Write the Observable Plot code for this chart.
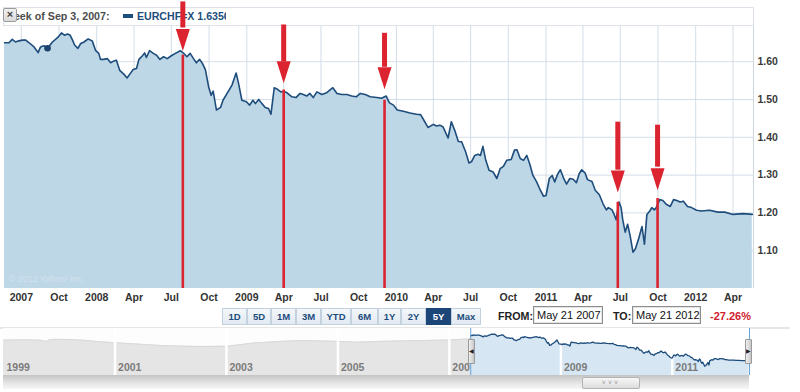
<!DOCTYPE html>
<html><head><meta charset="utf-8">
<script src="https://cdn.jsdelivr.net/npm/d3@7"></script>
<script src="https://cdn.jsdelivr.net/npm/@observablehq/plot@0.6"></script>
<style>
body{margin:0;background:#fff;}
#wrap{position:relative;width:800px;height:392px;overflow:hidden;font-family:"Liberation Sans",Arial,sans-serif;}
.abs{position:absolute;}
#hdr{left:3px;top:7px;width:749px;height:17px;border:1px solid #dce2e8;background:#fff;}
#hdrText{left:4px;top:9px;font-weight:bold;font-size:10.7px;color:#4d4d4d;white-space:nowrap;line-height:14px;}
#swatch{left:123px;top:14px;width:10px;height:4px;background:#1e4d7c;}
#legend{left:137px;top:9px;width:89px;overflow:hidden;white-space:nowrap;font-weight:bold;font-size:10.6px;color:#1e4d7c;line-height:14px;}
#close{left:3px;top:8px;width:12px;height:12px;border:1px solid #9c9c9c;border-radius:2px;background:linear-gradient(#f2f2f2,#d9d9d9);font-size:11px;line-height:11px;text-align:center;color:#444;font-weight:bold;}
#main{left:0;top:0;}
.btn{position:absolute;top:308px;height:15px;border:1px solid #c3d1de;background:linear-gradient(#f4f7fa,#e2eaf2);color:#1e4d7c;font-weight:bold;font-size:9.5px;line-height:15px;text-align:center;box-sizing:content-box;}
.btn.sel{background:#1b4677;color:#fff;border-color:#1b4677;}
.lbl{position:absolute;top:309px;font-weight:bold;font-size:10.7px;color:#222;line-height:14px;}
.box{position:absolute;top:306px;height:16px;border:1px solid #8d8d8d;box-shadow:inset 0 0 0 1px #e4e4e4;font-size:11px;line-height:16px;color:#111;padding-left:3px;box-sizing:content-box;white-space:nowrap;}
#pct{left:710px;top:309px;font-weight:bold;font-size:11px;color:#d0202e;line-height:14px;}
#sep{left:0;top:327px;width:790px;height:2px;background:#e6e6e6;}
#nav{left:0;top:328px;}
#scroll{left:3px;top:375px;width:746px;height:14px;background:linear-gradient(#c4c4c4,#e9e9e9 65%,#f6f6f6);}
#thumb{left:582px;top:377px;width:56px;height:10px;border:1px solid #b3b3b3;border-radius:2px;background:linear-gradient(#f7f7f7,#dedede);font-size:7px;line-height:10px;text-align:center;color:#9a9a9a;letter-spacing:2px;}
.handle{position:absolute;top:339px;width:5px;height:23px;border:1px solid #9a9a9a;border-radius:1px;background:linear-gradient(90deg,#f0f0f0,#c8c8c8);font-size:6px;line-height:23px;text-align:center;color:#222;overflow:hidden;}
</style></head><body>
<div id="wrap">
  <div id="hdr" class="abs"></div>
  <div id="hdrText" class="abs">Week of Sep 3, 2007:</div>
  <div id="swatch" class="abs"></div>
  <div id="legend" class="abs">EURCHF=X 1.6356</div>
  <div id="close" class="abs">×</div>
  <div id="main" class="abs"></div>
  <div id="btns"></div>
  <div class="lbl" style="left:498px">FROM:</div>
  <div class="box" style="left:533px;width:65px">May 21 2007</div>
  <div class="lbl" style="left:613px">TO:</div>
  <div class="box" style="left:632px;width:64px">May 21 2012</div>
  <div id="pct" class="abs">-27.26%</div>
  <div id="sep" class="abs"></div>
  <div id="nav" class="abs"></div>
  <div id="scroll" class="abs"></div>
  <div id="thumb" class="abs">˅˅˅</div>
  <div class="handle" style="left:468px">◀</div>
  <div class="handle" style="left:745px">▶</div>
</div>
<script>
// ---- main series (weekly EURCHF=X closes) ----
const weekDates = ["2007-05-21","2007-06-01","2007-06-09","2007-06-17","2007-06-25","2007-07-04","2007-07-12","2007-07-20","2007-08-01","2007-08-11","2007-08-17","2007-08-25","2007-09-03","2007-09-15","2007-09-28","2007-10-07","2007-10-14","2007-10-22","2007-10-28","2007-11-03","2007-11-08","2007-11-16","2007-11-23","2007-12-01","2007-12-11","2007-12-21","2007-12-29",
"2008-01-06","2008-01-10","2008-01-18","2008-01-27","2008-02-04","2008-02-12","2008-02-18","2008-02-26","2008-03-07","2008-03-15","2008-03-23","2008-03-30","2008-04-07","2008-04-13","2008-04-21","2008-04-27","2008-05-01","2008-05-09","2008-05-18","2008-05-26","2008-06-03","2008-06-12","2008-06-21","2008-06-30","2008-07-11","2008-07-23","2008-07-31","2008-08-08","2008-08-16","2008-08-24","2008-08-31","2008-09-08","2008-09-15","2008-09-22","2008-09-30","2008-10-06","2008-10-11","2008-10-19","2008-10-29","2008-11-04","2008-11-14","2008-11-26","2008-12-06","2008-12-12","2008-12-20","2008-12-31",
"2009-01-08","2009-01-16","2009-01-22","2009-01-30","2009-02-07","2009-02-15","2009-02-23","2009-03-01","2009-03-09","2009-03-17","2009-03-25","2009-04-01","2009-04-10","2009-04-21","2009-05-01","2009-05-11","2009-05-19","2009-05-27","2009-06-04","2009-06-12","2009-06-21","2009-07-03","2009-07-15","2009-07-30","2009-08-09","2009-08-21","2009-09-02","2009-09-14","2009-09-25","2009-10-05","2009-10-17","2009-10-29","2009-11-14","2009-11-26","2009-12-07","2009-12-15","2009-12-25",
"2010-01-03","2010-01-18","2010-02-03","2010-02-19","2010-03-01","2010-03-09","2010-03-19","2010-04-01","2010-04-09","2010-04-17","2010-04-25","2010-05-07","2010-05-15","2010-05-23","2010-06-01","2010-06-09","2010-06-19","2010-06-27","2010-07-03","2010-07-11","2010-07-19","2010-07-25","2010-07-31","2010-08-07","2010-08-15","2010-08-25","2010-09-03","2010-09-11","2010-09-19","2010-09-27","2010-10-08","2010-10-16","2010-10-22","2010-10-30","2010-11-07","2010-11-15","2010-11-22","2010-11-30","2010-12-09","2010-12-18","2010-12-26",
"2011-01-01","2011-01-09","2011-01-16","2011-01-22","2011-01-30","2011-02-05","2011-02-13","2011-02-20","2011-02-28","2011-03-08","2011-03-16","2011-03-23","2011-03-29","2011-04-06","2011-04-12","2011-04-23","2011-05-01","2011-05-11","2011-05-20","2011-05-28","2011-06-02","2011-06-11","2011-06-16","2011-06-21","2011-06-28","2011-07-03","2011-07-07","2011-07-13","2011-07-19","2011-07-25","2011-08-01","2011-08-07","2011-08-15","2011-08-23","2011-08-29","2011-09-04","2011-09-11","2011-09-16","2011-09-22","2011-09-27","2011-10-05","2011-10-13","2011-10-21","2011-10-31","2011-11-08","2011-11-16","2011-11-24","2011-12-02","2011-12-12","2011-12-22",
"2012-01-03","2012-01-15","2012-02-04","2012-02-24","2012-03-12","2012-04-01","2012-04-26","2012-05-18"];
const rates = [1.650,1.650,1.659,1.652,1.655,1.657,1.657,1.650,1.639,1.624,1.639,1.642,1.6356,1.652,1.664,1.676,1.670,1.673,1.670,1.657,1.644,1.635,1.648,1.652,1.660,1.655,1.630,
1.622,1.606,1.606,1.608,1.597,1.602,1.604,1.577,1.567,1.557,1.569,1.579,1.582,1.606,1.615,1.623,1.611,1.629,1.622,1.617,1.606,1.613,1.608,1.615,1.622,1.629,1.622,1.613,1.622,1.608,1.597,1.606,1.595,1.579,1.533,1.511,1.522,1.472,1.479,1.498,1.516,1.538,1.570,1.542,1.498,1.494,
1.485,1.498,1.489,1.500,1.489,1.479,1.476,1.461,1.531,1.527,1.520,1.522,1.517,1.507,1.505,1.516,1.513,1.509,1.516,1.505,1.520,1.513,1.518,1.531,1.516,1.513,1.513,1.509,1.507,1.516,1.513,1.507,1.505,1.503,1.509,1.491,1.485,
1.472,1.469,1.464,1.461,1.460,1.445,1.426,1.434,1.430,1.432,1.427,1.398,1.441,1.419,1.389,1.388,1.361,1.332,1.335,1.352,1.355,1.352,1.376,1.339,1.313,1.308,1.291,1.317,1.323,1.339,1.341,1.366,1.367,1.344,1.339,1.352,1.330,1.299,1.282,1.260,1.244,
1.246,1.291,1.299,1.282,1.304,1.314,1.291,1.276,1.291,1.289,1.280,1.304,1.314,1.306,1.288,1.283,1.260,1.248,1.224,1.208,1.214,1.208,1.196,1.182,1.229,1.214,1.182,1.149,1.170,1.140,1.096,1.105,1.132,1.164,1.117,1.196,1.205,1.214,1.208,1.214,1.235,1.233,1.223,1.217,1.235,1.233,1.229,1.231,1.217,1.214,
1.207,1.205,1.207,1.202,1.202,1.196,1.198,1.196];

// hovered week
const hoverDate = "2007-09-03";
const hoverRate = 1.6356;

// red annotation arrows: date, shaft top, head top, tip, rule top (all in EURCHF units)
const eventDates  = ["2008-07-29","2009-04-01","2009-12-03","2011-06-25","2011-09-30"];
const arrowTop    = [1.758, 1.697, 1.675, 1.440, 1.432];
const arrowHead   = [1.689, 1.599, 1.585, 1.313, 1.321];
const arrowTip    = [1.628, 1.543, 1.527, 1.254, 1.260];
const ruleTop     = [1.617, 1.525, 1.498, 1.228, 1.238];

// axes
const xTickDates  = ["2007-07-01","2007-10-01","2008-01-01","2008-04-01","2008-07-01","2008-10-01","2009-01-01","2009-04-01","2009-07-01","2009-10-01","2010-01-01","2010-04-01","2010-07-01","2010-10-01","2011-01-01","2011-04-01","2011-07-01","2011-10-01","2012-01-01","2012-04-01"];
const xTickLabels = ["2007","Oct","2008","Apr","Jul","Oct","2009","Apr","Jul","Oct","2010","Apr","Jul","Oct","2011","Apr","Jul","Oct","2012","Apr"];
const yTicks = [1.10, 1.20, 1.30, 1.40, 1.50, 1.60];

// navigator history before the selected range
const navDates = ["1999-01-01","1999-03-01","1999-06-01","1999-09-01","1999-10-10","1999-11-01","2000-01-01","2000-04-01","2000-07-01","2000-09-01","2000-12-01","2001-02-01","2001-05-01","2001-08-01","2001-11-01","2002-02-01","2002-05-01","2002-08-01","2002-11-01","2003-01-01","2003-04-01","2003-07-01","2003-10-01","2004-01-01","2004-06-01","2004-10-01","2005-02-01","2005-05-01","2005-09-01","2006-01-01","2006-08-01","2007-01-01","2007-03-01","2007-05-21"];
const navRates = [1.565,1.570,1.572,1.565,1.540,1.578,1.580,1.575,1.560,1.542,1.525,1.515,1.500,1.485,1.470,1.462,1.455,1.452,1.455,1.457,1.485,1.515,1.530,1.545,1.560,1.550,1.540,1.529,1.542,1.550,1.560,1.570,1.578,1.590];
const navYears = ["1999","2001","2003","2005","2007","2009","2011"];

const buttonLabels = ["1D","5D","1M","3M","YTD","6M","1Y","2Y","5Y","Max"];
const buttonLeft   = [222,247,271,296,321,351,378,401,426,451];
const buttonWidth  = [23,22,23,23,28,25,21,23,23,28];
const selectedButton = "5Y";

// ---------------------------------------------------------------
const D = s => new Date(s);
const series = weekDates.map((d, i) => ({date: D(d), rate: rates[i]}));
const events = eventDates.map((d, i) => ({date: D(d), top: arrowTop[i], head: arrowHead[i], tip: arrowTip[i], rule: ruleTop[i]}));
const labelMap = new Map(xTickDates.map((d, i) => [+D(d), xTickLabels[i]]));
const xTicks = xTickDates.map(D);
const start = D("2007-05-21"), end = D("2012-05-21");
const red = "#db2430";
const font = "'Liberation Sans', Arial, sans-serif";

const headSymbol = {draw(ctx) { ctx.moveTo(-7, -22); ctx.lineTo(7, -22); ctx.lineTo(0, 0); ctx.closePath(); }};

const main = Plot.plot({
  width: 800, height: 305,
  marginTop: 26, marginBottom: 17, marginLeft: 4, marginRight: 47,
  style: {background: "transparent", fontFamily: font, overflow: "visible"},
  x: {type: "utc", domain: [start, end]},
  y: {domain: [1.0, 1.693]},
  marks: [
    Plot.gridX(xTicks, {stroke: "#d3dde7", strokeOpacity: 1}),
    Plot.gridY(yTicks, {stroke: "#d3dde7", strokeOpacity: 1}),
    Plot.ruleX([end], {stroke: "#cdd7e1"}),
    Plot.areaY(series, {x: "date", y1: 1.0, y2: "rate", fill: "#bed7e7"}),
    Plot.text(["© 2012 Yahoo! Inc."], {frameAnchor: "bottom-left", dx: 4, dy: -7, textAnchor: "start", fill: "#d2e2ed", fontSize: 9}),
    Plot.lineY(series, {x: "date", y: "rate", stroke: "#1e4d7c", strokeWidth: 1.6}),
    Plot.dot([{date: D(hoverDate), rate: hoverRate}], {x: "date", y: "rate", r: 3.3, fill: "#1d426f"}),
    Plot.ruleX(events, {x: "date", y1: 1.0, y2: "rule", stroke: red, strokeWidth: 2.6}),
    Plot.ruleX(events, {x: "date", y1: "head", y2: "top", stroke: red, strokeWidth: 5}),
    Plot.dot(events, {x: "date", y: "tip", symbol: headSymbol, fill: red, r: 5}),
    Plot.axisX(xTicks, {tickSize: 0, tickPadding: 5, tickFormat: d => labelMap.get(+d), fontWeight: "bold", fontSize: 10.5, fill: "#333", label: null}),
    Plot.axisY(yTicks, {anchor: "right", tickSize: 0, tickPadding: 4, tickFormat: d3.format(".2f"), fontWeight: "bold", fontSize: 10.5, fill: "#3a3a3a", label: null})
  ]
});
document.getElementById("main").append(main);

// navigator
const hist = navDates.map((d, i) => ({date: D(d), rate: navRates[i]}));
const navLo = 0.93, navHi = 1.7755;
const yearDates = navYears.map(y => ({date: D(y + "-01-01"), label: y}));
const oldYears = yearDates.filter(d => d.date < start);
const newYears = yearDates.filter(d => d.date >= start);
const nav = Plot.plot({
  width: 800, height: 47, marginTop: 0, marginBottom: 0, marginLeft: 3, marginRight: 51,
  style: {background: "transparent", fontFamily: font, overflow: "visible"},
  x: {type: "utc", domain: [D("1999-01-01"), end], axis: null},
  y: {domain: [navLo, navHi], axis: null},
  marks: [
    Plot.rect([{a: D("1999-01-01"), b: start}], {x1: "a", x2: "b", y1: navLo, y2: navHi, fill: "#fdfdfd"}),
    Plot.areaY(hist, {x: "date", y1: navLo, y2: "rate", fill: "#e5e5e5"}),
    Plot.lineY(hist, {x: "date", y: "rate", stroke: "#d9d9d9", strokeWidth: 1}),
    Plot.ruleX(oldYears.slice(1), {x: "date", stroke: "#fff", strokeWidth: 2.5}),
    Plot.text(oldYears, {x: "date", y: navLo, text: "label", dx: 3, dy: -8, textAnchor: "start", fill: "#7b7b7b", fontWeight: "bold", fontSize: 10.5}),
    Plot.rect([{a: start, b: end}], {x1: "a", x2: "b", y1: navLo, y2: navHi, fill: "#fff"}),
    Plot.areaY(series, {x: "date", y1: navLo, y2: "rate", fill: "#d6e6f2"}),
    Plot.ruleX(newYears, {x: "date", stroke: "#fff", strokeWidth: 2.5}),
    Plot.text(newYears, {x: "date", y: navLo, text: "label", dx: 3, dy: -8, textAnchor: "start", fill: "#7b7b7b", fontWeight: "bold", fontSize: 10.5}),
    Plot.lineY(series, {x: "date", y: "rate", stroke: "#1e4d7c", strokeWidth: 1.3}),
    Plot.ruleX([start, end], {stroke: "#67a3d6", strokeWidth: 1})
  ]
});
document.getElementById("nav").append(nav);

// range buttons
const btns = document.getElementById("btns");
buttonLabels.forEach((t, i) => {
  const b = document.createElement("div");
  b.className = "btn" + (t === selectedButton ? " sel" : "");
  b.style.left = buttonLeft[i] + "px";
  b.style.width = buttonWidth[i] + "px";
  b.textContent = t;
  btns.append(b);
});
</script>
</body></html>
